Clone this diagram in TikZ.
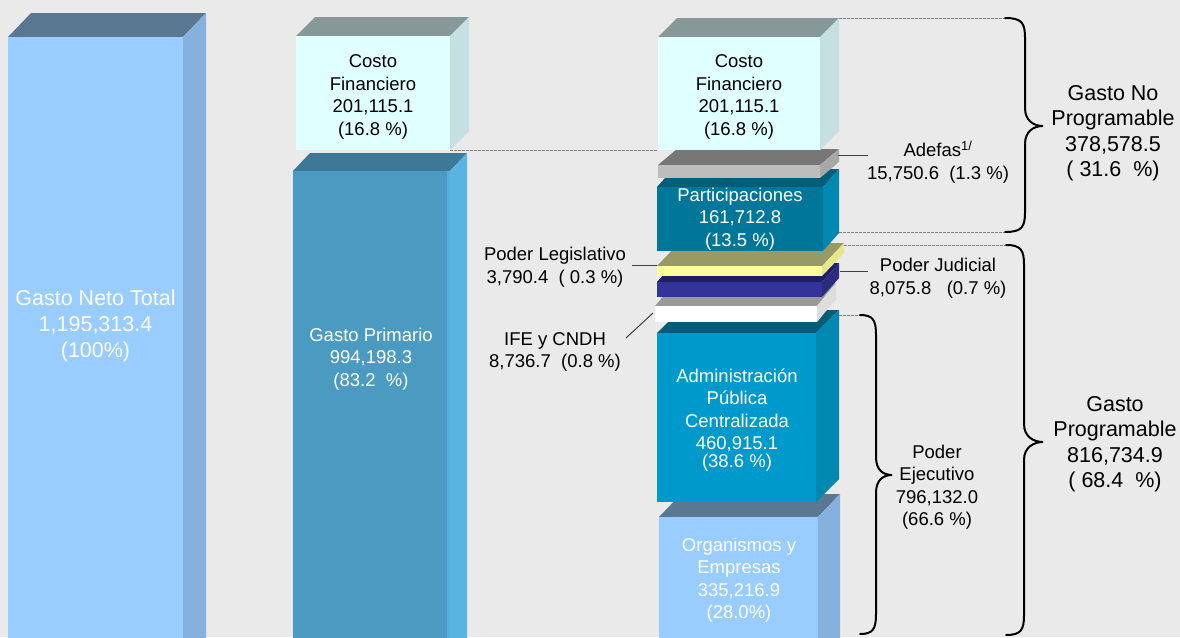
\documentclass[tikz,border=0pt]{standalone}
\usepackage{fontspec}
\setmainfont{Liberation Sans}
\definecolor{bg}{HTML}{EAEAEA}
\definecolor{skyF}{HTML}{99CCFF}
\definecolor{skyT}{HTML}{5B7893}
\definecolor{skyS}{HTML}{86B0DE}
\definecolor{iceF}{HTML}{E0FFFF}
\definecolor{iceT}{HTML}{879898}
\definecolor{iceS}{HTML}{C4E0E0}
\definecolor{priF}{HTML}{4A9AC2}
\definecolor{priT}{HTML}{3D7896}
\definecolor{priS}{HTML}{5AB4E0}
\definecolor{priE}{HTML}{58AEDC}
\definecolor{tealF}{HTML}{007799}
\definecolor{tealT}{HTML}{005E7A}
\definecolor{tealS}{HTML}{0088B0}
\definecolor{adminF}{HTML}{0099CC}
\definecolor{greyF}{HTML}{BDBDBD}
\definecolor{greyT}{HTML}{777777}
\definecolor{greyS}{HTML}{A8A8A8}
\definecolor{yelF}{HTML}{FFFF99}
\definecolor{yelT}{HTML}{999966}
\definecolor{yelS}{HTML}{E6E68A}
\definecolor{navyF}{HTML}{333399}
\definecolor{navyT}{HTML}{1F1F66}
\definecolor{navyS}{HTML}{2B2B80}
\definecolor{whiteT}{HTML}{999999}
\definecolor{whiteS}{HTML}{DDDDDD}
% front face (x1,y1)-(x2,y2), depth (dx,dy), colours front/top/side
\newcommand\solidblock[9]{%
  \fill[#8] (#1,#2) -- (#1+#5,#2-#6) -- (#3+#5,#2-#6) -- (#3,#2) -- cycle;
  \fill[#9] (#3,#2) -- (#3+#5,#2-#6) -- (#3+#5,#4-#6) -- (#3,#4) -- cycle;
  \fill[#7] (#1,#2) rectangle (#3,#4);
}
% curly bracket: free end x, stem x, tip x, top y, tip y, bottom y
\newcommand\curly[6]{%
  \draw[bracket] (#1,#4) .. controls (#2-3,#4) and (#2,#4+5) .. (#2,#4+20)
    -- (#2,#5-18) .. controls (#2,#5-5) and (#3-9,#5) .. (#3,#5)
    .. controls (#3-9,#5) and (#2,#5+5) .. (#2,#5+18)
    -- (#2,#6-20) .. controls (#2,#6-5) and (#2-3,#6) .. (#1,#6);
}
\begin{document}
\begin{tikzpicture}[x=1pt,y=-1pt,
  lbl/.style={font=\fontsize{18.5}{22.5}\selectfont,align=center,inner sep=0pt,text=black},
  wlbl/.style={lbl,text=white},
  big/.style={font=\fontsize{21.5}{25.5}\selectfont,align=center,inner sep=0pt,text=black},
  guide/.style={draw=black!50, dash pattern=on 2.5pt off 1.5pt, line width=0.8pt},
  pointer/.style={draw=black!75, line width=1pt},
  bracket/.style={draw=black, line width=2pt, line cap=round}]
\useasboundingbox (0,0) rectangle (1180,637);
\fill[bg] (0,0) rectangle (1180,637);
\clip (0,0) rectangle (1180,637);

% ---- column 1: total
\solidblock{8}{37}{183}{680}{23}{24}{skyF}{skyT}{skyS}
\node[big,text=white,font=\fontsize{21.5}{26}\selectfont] (neto) at (95.5,326)
  {Gasto Neto Total\\1,195,313.4\\(100\%)};

% ---- column 2: financial cost and primary spending
\solidblock{296}{36}{450}{150}{19}{19}{iceF}{iceT}{iceS}
\node[lbl] (cf1) at (373,97) {Costo\\Financiero\\201,115.1\\(16.8 \%)};
\solidblock{293}{171}{450}{680}{17}{18}{priF}{priT}{priS}
\fill[priE] (447,171) rectangle (450,680);
\node[wlbl] (prim) at (371,359) {Gasto Primario\\994,198.3\\(83.2\ \ \%)};

% ---- column 3: breakdown, drawn from the bottom up
\solidblock{659}{517}{818}{680}{22}{23}{skyF}{skyT}{skyS}
\node[wlbl] (org) at (739,580) {Organismos y\\Empresas\\335,216.9\\(28.0\%)};
\solidblock{657}{333}{816}{502}{23}{23}{adminF}{tealT}{tealS}
\node[wlbl] (apc) at (737,420)
  {Administración\\Pública\\Centralizada\\460,915.1\\[-4.5pt](38.6 \%)};
\solidblock{655}{306}{817}{322}{19}{23}{white}{whiteT}{whiteS}
\solidblock{657}{282}{822}{297}{17}{19}{navyF}{navyT}{navyS}
\solidblock{657}{266}{822}{276}{22}{23}{yelF}{yelT}{yelS}
\solidblock{657}{187}{823}{251}{16}{18}{tealF}{tealT}{tealS}
\node[wlbl] (part) at (740,219) {Participaciones\\161,712.8\\(13.5 \%)};
\solidblock{658}{165}{820}{178}{19}{16}{greyF}{greyT}{greyS}
\solidblock{658}{37}{820}{150}{19}{19}{iceF}{iceT}{iceS}
\node[lbl] (cf2) at (739,97) {Costo\\Financiero\\201,115.1\\(16.8 \%)};

% ---- side labels and their pointers
\node[lbl] (adefas) at (938,162) {Adefas\textsuperscript{1/}\\15,750.6\ \ (1.3 \%)};
\node[lbl] (judicial) at (938,278) {Poder Judicial\\8,075.8\ \ \ (0.7 \%)};
\node[lbl] (legis) at (555,267) {Poder Legislativo\\3,790.4\ \ ( 0.3 \%)};
\node[lbl] (ife) at (555,352) {IFE y CNDH\\8,736.7\ \ (0.8 \%)};
\coordinate (adefasA) at (838,155);  \coordinate (adefasB) at (868,155);
\coordinate (judA) at (840,271);     \coordinate (judB) at (868,271);
\coordinate (legA) at (632,265);     \coordinate (legB) at (657,265);
\coordinate (ifeA) at (626,338);     \coordinate (ifeB) at (653,313);
\draw[pointer] (adefasA) -- (adefasB);
\draw[pointer] (judA) -- (judB);
\draw[pointer] (legA) -- (legB);
\draw[pointer] (ifeA) -- (ifeB);

% ---- dashed guides
\coordinate (g1a) at (450,150);  \coordinate (g1b) at (658,150);
\coordinate (g2a) at (839,18);   \coordinate (g2b) at (1005,18);
\coordinate (g3a) at (839,232);  \coordinate (g3b) at (1006,232);
\coordinate (g4a) at (844,245);  \coordinate (g4b) at (1006,245);
\coordinate (g5a) at (839,315);  \coordinate (g5b) at (860,315);
\draw[guide] (g1a) -- (g1b);
\draw[guide] (g2a) -- (g2b);
\draw[guide] (g3a) -- (g3b);
\draw[guide] (g4a) -- (g4b);
\draw[guide] (g5a) -- (g5b);

% ---- brackets and their totals
\curly{1005}{1025}{1043}{18}{126}{232}
\curly{1006}{1024}{1043}{245}{442}{635}
\curly{860}{876}{892}{315}{475}{634}
\node[big] (noprog) at (1113,133) {Gasto No\\Programable\\378,578.5\\( 31.6\ \ \%)};
\node[big] (prog) at (1115,444) {Gasto\\Programable\\816,734.9\\( 68.4\ \ \%)};
\node[lbl] (ejec) at (937,487) {Poder\\Ejecutivo\\796,132.0\\(66.6 \%)};
\end{tikzpicture}
\end{document}
